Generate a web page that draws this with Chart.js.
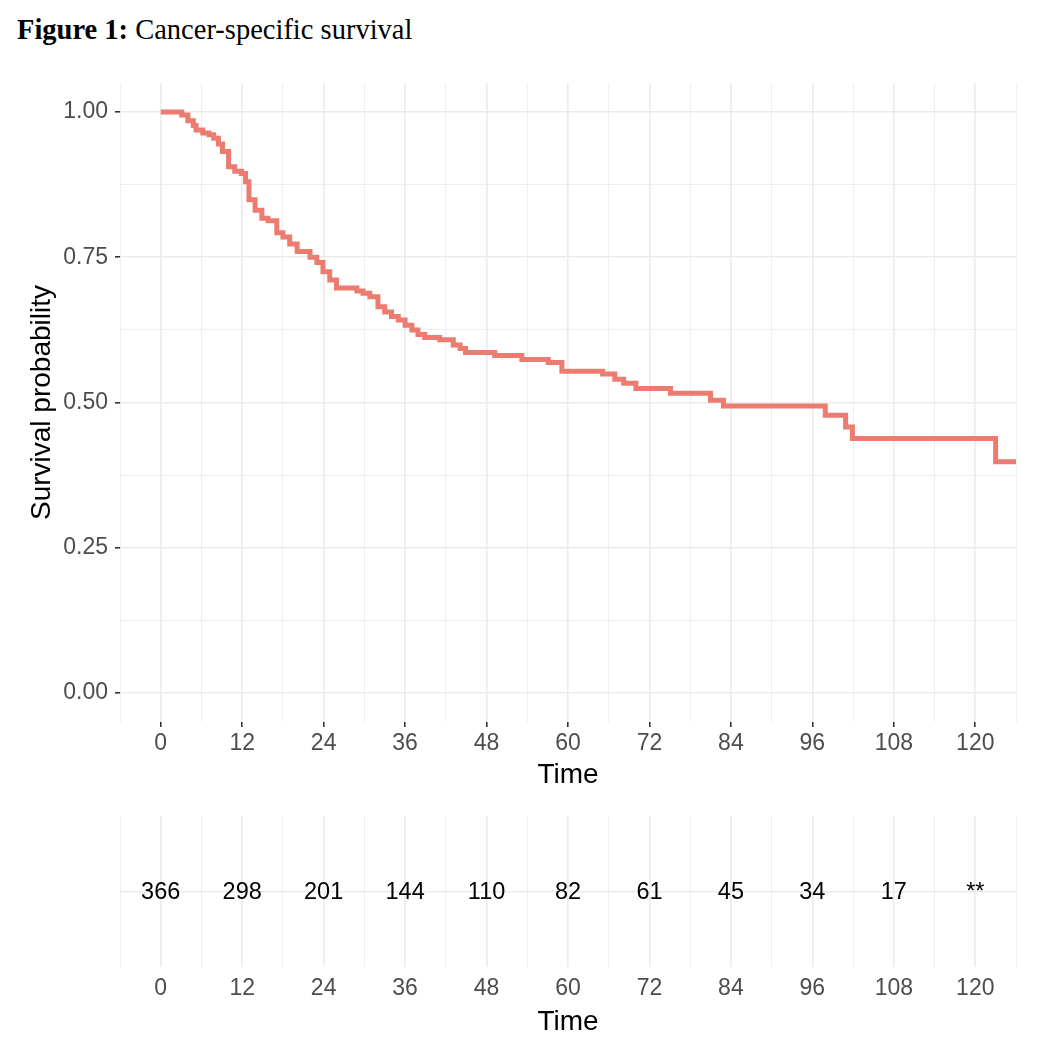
<!DOCTYPE html>
<html>
<head>
<meta charset="utf-8">
<script src="https://cdn.jsdelivr.net/npm/chart.js@4.4.0/dist/chart.umd.min.js"></script>
<style>
  body { margin: 0; background: #fff; }
  #page { position: relative; width: 1056px; height: 1042px; overflow: hidden; }
  #figTitle {
    position: absolute; left: 17px; top: 16px;
    font-family: "Liberation Serif", "Times New Roman", serif; font-size: 28.5px;
    line-height: 1; color: #000; white-space: nowrap;
  }
  canvas { position: absolute; left: 0; }
</style>
</head>
<body>
<div id="page">
  <div id="figTitle"><b>Figure 1:</b> Cancer-specific survival</div>
  <canvas id="survChart" width="1056" height="800" style="top:0"></canvas>
  <canvas id="riskChart" width="1056" height="242" style="top:800px"></canvas>
</div>
<script>
// Kaplan-Meier steps: time (months) and survival after each drop
const kmTime = [0, 3.1, 4.0, 4.8, 5.2, 6.2, 7.1, 7.8, 8.5, 9.1,
  10.0, 10.9, 11.9, 12.5, 13.0, 13.9, 14.9, 15.8, 17.1, 18.0,
  19.0, 20.1, 22.0, 23.0, 23.9, 24.9, 25.9, 28.9, 29.8, 30.8,
  32.0, 33.0, 34.0, 35.0, 36.0, 37.0, 37.9, 38.9, 41.1, 43.1,
  44.1, 44.9, 49.2, 53.2, 57.1, 59.1, 65.1, 66.9, 68.2, 70.0,
  75.1, 81.0, 82.9, 97.9, 100.9, 101.9, 123.0, 126];
const kmSurv = [1.000, 0.995, 0.985, 0.977, 0.969, 0.964, 0.961, 0.955, 0.945, 0.932,
  0.906, 0.898, 0.894, 0.880, 0.849, 0.831, 0.817, 0.813, 0.792, 0.785,
  0.773, 0.760, 0.750, 0.741, 0.725, 0.711, 0.697, 0.692, 0.688, 0.682,
  0.665, 0.656, 0.648, 0.642, 0.633, 0.625, 0.617, 0.612, 0.608, 0.599,
  0.593, 0.586, 0.581, 0.574, 0.569, 0.554, 0.549, 0.540, 0.533, 0.524,
  0.516, 0.504, 0.494, 0.478, 0.458, 0.438, 0.398, 0.398];

// number at risk table
const riskTime = [0, 12, 24, 36, 48, 60, 72, 84, 96, 108, 120];
const riskCount = ["366", "298", "201", "144", "110", "82", "61", "45", "34", "17", "**"];

// axis breaks
const xMajor = [0, 12, 24, 36, 48, 60, 72, 84, 96, 108, 120];
const xMinor = [-6, 6, 18, 30, 42, 54, 66, 78, 90, 102, 114, 126];
const yMajor = [0, 0.25, 0.5, 0.75, 1];
const yMinor = [0.125, 0.375, 0.625, 0.875];

const FONT = '"Liberation Sans", Arial, sans-serif';
const GRID = "#EBEBEB";
const NONE = "rgba(0,0,0,0)";
const isIn = (arr, v) => arr.some(a => Math.abs(a - v) < 1e-6);
const asTicks = list => list.slice().sort((a, b) => a - b).map(v => ({ value: v }));

function timeAxis(showTickMarks, boxHeight, titleBottom) {
  return {
    type: "linear",
    min: -6,
    max: 126,
    afterBuildTicks: s => { s.ticks = asTicks(xMinor.concat(xMajor)); },
    afterFit: s => { s.height = boxHeight; },
    ticks: {
      autoSkip: false, maxRotation: 0, padding: 3,
      color: "#4D4D4D", font: { family: FONT, size: 23 },
      callback: v => isIn(xMajor, v) ? String(v) : ""
    },
    grid: {
      color: GRID,
      lineWidth: c => c.tick && isIn(xMajor, c.tick.value) ? 1.6 : 0.8,
      tickLength: 5,
      tickColor: c => showTickMarks && c.tick && isIn(xMajor, c.tick.value) ? "#333333" : NONE
    },
    border: { display: false },
    title: {
      display: true, text: "Time", color: "#000",
      font: { family: FONT, size: 28 },
      padding: { top: 0, bottom: titleBottom }
    }
  };
}

// survival curve
new Chart(document.getElementById("survChart"), {
  type: "line",
  data: {
    datasets: [{
      data: kmTime.map((t, i) => ({ x: t, y: kmSurv[i] })),
      stepped: true,
      borderColor: "#EC7B70",
      borderWidth: 5,
      pointRadius: 0,
      fill: false
    }]
  },
  options: {
    responsive: false,
    animation: false,
    layout: { padding: { top: 83, right: 40, left: 0, bottom: 0 } },
    plugins: { legend: { display: false }, tooltip: { enabled: false } },
    scales: {
      x: timeAxis(true, 78, 8),
      y: {
        type: "linear",
        min: -0.05,
        max: 1.05,
        afterBuildTicks: s => { s.ticks = asTicks(yMinor.concat(yMajor)); },
        afterFit: s => { s.width = 120; },
        ticks: {
          autoSkip: false, padding: 7,
          color: "#4D4D4D", font: { family: FONT, size: 23 },
          callback: v => isIn(yMajor, v) ? v.toFixed(2) : ""
        },
        grid: {
          color: GRID,
          lineWidth: c => c.tick && isIn(yMajor, c.tick.value) ? 1.6 : 0.8,
          tickLength: 5,
          tickColor: c => c.tick && isIn(yMajor, c.tick.value) ? "#333333" : NONE
        },
        border: { display: false },
        title: {
          display: true, text: "Survival probability", color: "#000",
          font: { family: FONT, size: 28 },
          padding: { top: 25, bottom: 0 }
        }
      }
    }
  }
});

// draws the at-risk numbers at the points placed by the scales
const riskText = {
  id: "riskText",
  afterDatasetsDraw(chart) {
    const ctx = chart.ctx;
    const meta = chart.getDatasetMeta(0);
    ctx.save();
    ctx.font = "23.5px " + FONT;
    ctx.fillStyle = "#000";
    ctx.textAlign = "center";
    ctx.textBaseline = "middle";
    meta.data.forEach((pt, i) => ctx.fillText(riskCount[i], pt.x, pt.y + 1));
    ctx.restore();
  }
};

new Chart(document.getElementById("riskChart"), {
  type: "line",
  data: {
    datasets: [{
      data: riskTime.map(t => ({ x: t, y: 1 })),
      showLine: false,
      pointRadius: 0
    }]
  },
  options: {
    responsive: false,
    animation: false,
    layout: { padding: { top: 16, right: 40, left: 0, bottom: 0 } },
    plugins: { legend: { display: false }, tooltip: { enabled: false } },
    scales: {
      x: timeAxis(false, 75, 3),
      y: {
        type: "linear",
        min: 0,
        max: 2,
        afterBuildTicks: s => { s.ticks = [{ value: 1 }]; },
        afterFit: s => { s.width = 120; },
        ticks: { callback: () => "" },
        grid: { color: GRID, lineWidth: 1.6, tickLength: 5, tickColor: NONE },
        border: { display: false }
      }
    }
  },
  plugins: [riskText]
});
</script>
</body>
</html>
